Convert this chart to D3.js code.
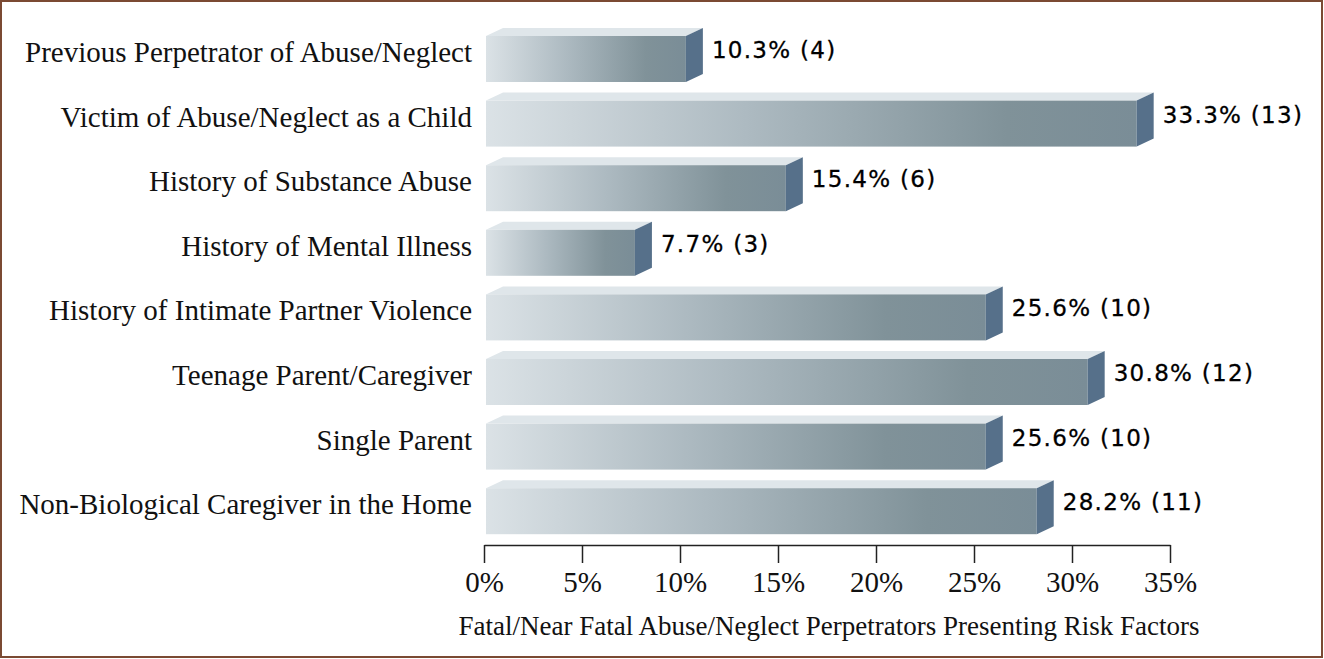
<!DOCTYPE html>
<html><head><meta charset="utf-8">
<script src="https://cdn.jsdelivr.net/npm/d3@7"></script>
<style>html,body{margin:0;padding:0;background:#fff;}svg{display:block;}</style>
</head><body>
<svg id="chart" width="1324" height="659"></svg>
<script>
const categories = [
  "Previous Perpetrator of Abuse/Neglect",
  "Victim of Abuse/Neglect as a Child",
  "History of Substance Abuse",
  "History of Mental Illness",
  "History of Intimate Partner Violence",
  "Teenage Parent/Caregiver",
  "Single Parent",
  "Non-Biological Caregiver in the Home"
];
const percents = [10.3, 33.3, 15.4, 7.7, 25.6, 30.8, 25.6, 28.2];
const counts = [4, 13, 6, 3, 10, 12, 10, 11];
const tickValues = [0, 5, 10, 15, 20, 25, 30, 35];
const axisTitle = "Fatal/Near Fatal Abuse/Neglect Perpetrators Presenting Risk Factors";

const svg = d3.select("#chart");
const serif = "'Liberation Serif','Times New Roman',serif";
const sans = "'DejaVu Sans','Noto Sans',sans-serif";

svg.append("rect").attr("x",1).attr("y",1).attr("width",1321).attr("height",656)
  .attr("fill","#fff").attr("stroke","#7b4a33").attr("stroke-width",2);

const x = d3.scaleLinear().domain([0,35]).range([484,1170]);
const y = d3.scaleBand().domain(categories).range([36,534.2]).paddingInner(0.288).paddingOuter(0);
const bh = y.bandwidth();
const dx = 17, dy = 8;

const defs = svg.append("defs");
const grad = defs.append("linearGradient").attr("id","frontGrad")
  .attr("x1","0").attr("y1","0").attr("x2","1").attr("y2","0");
grad.append("stop").attr("offset","0").attr("stop-color","#dbe2e6");
grad.append("stop").attr("offset","0.4").attr("stop-color","#adbac1");
grad.append("stop").attr("offset","0.8").attr("stop-color","#809299");
grad.append("stop").attr("offset","1").attr("stop-color","#7a8d97");

const data = categories.map((c,i)=>({c, p:percents[i], n:counts[i]}));
const g = svg.append("g");
const bars = g.selectAll("g.bar").data(data).join("g").attr("class","bar");
const x0 = x(0)+2;
bars.append("path").attr("fill","#dfe6ea")
  .attr("d", d=>{const t=y(d.c), r=x(d.p);
    return `M${x0},${t} L${x0+dx},${t-dy} L${r+dx},${t-dy} L${r},${t} Z`;});
bars.append("rect").attr("x",x0).attr("y",d=>y(d.c))
  .attr("width",d=>x(d.p)-x0).attr("height",bh).attr("fill","url(#frontGrad)");
bars.append("path").attr("fill","#56708a")
  .attr("d", d=>{const t=y(d.c), r=x(d.p);
    return `M${r},${t} L${r+dx},${t-dy} L${r+dx},${t-dy+bh} L${r},${t+bh} Z`;});
bars.append("text").attr("x",d=>x(d.p)+dx+9).attr("y",d=>y(d.c)+bh/2-9)
  .attr("dominant-baseline","central").attr("font-family",sans).attr("font-size",23)
  .attr("letter-spacing",1.3).attr("stroke","#000").attr("stroke-width",0.3)
  .attr("fill","#000").text(d=>`${d.p.toFixed(1)}% (${d.n})`);
bars.append("text").attr("x",472).attr("y",d=>y(d.c)+bh/2-7)
  .attr("dominant-baseline","central").attr("text-anchor","end")
  .attr("font-family",serif).attr("font-size",29).attr("fill","#111").text(d=>d.c);

const axis = d3.axisBottom(x).tickValues(tickValues).tickFormat(d=>d+"%")
  .tickSize(18).tickSizeOuter(0).tickPadding(8);
const ax = svg.append("g").attr("transform","translate(0,545)").call(axis);
ax.select(".domain").attr("stroke","#222").attr("stroke-width",1.5);
ax.selectAll(".tick line").attr("stroke","#222").attr("stroke-width",1.5);
ax.selectAll(".tick text").attr("font-family",serif).attr("font-size",29).attr("fill","#111");

svg.append("text").attr("x",829).attr("y",635).attr("text-anchor","middle")
  .attr("font-family",serif).attr("font-size",27).attr("fill","#111").text(axisTitle);
</script>
</body></html>
